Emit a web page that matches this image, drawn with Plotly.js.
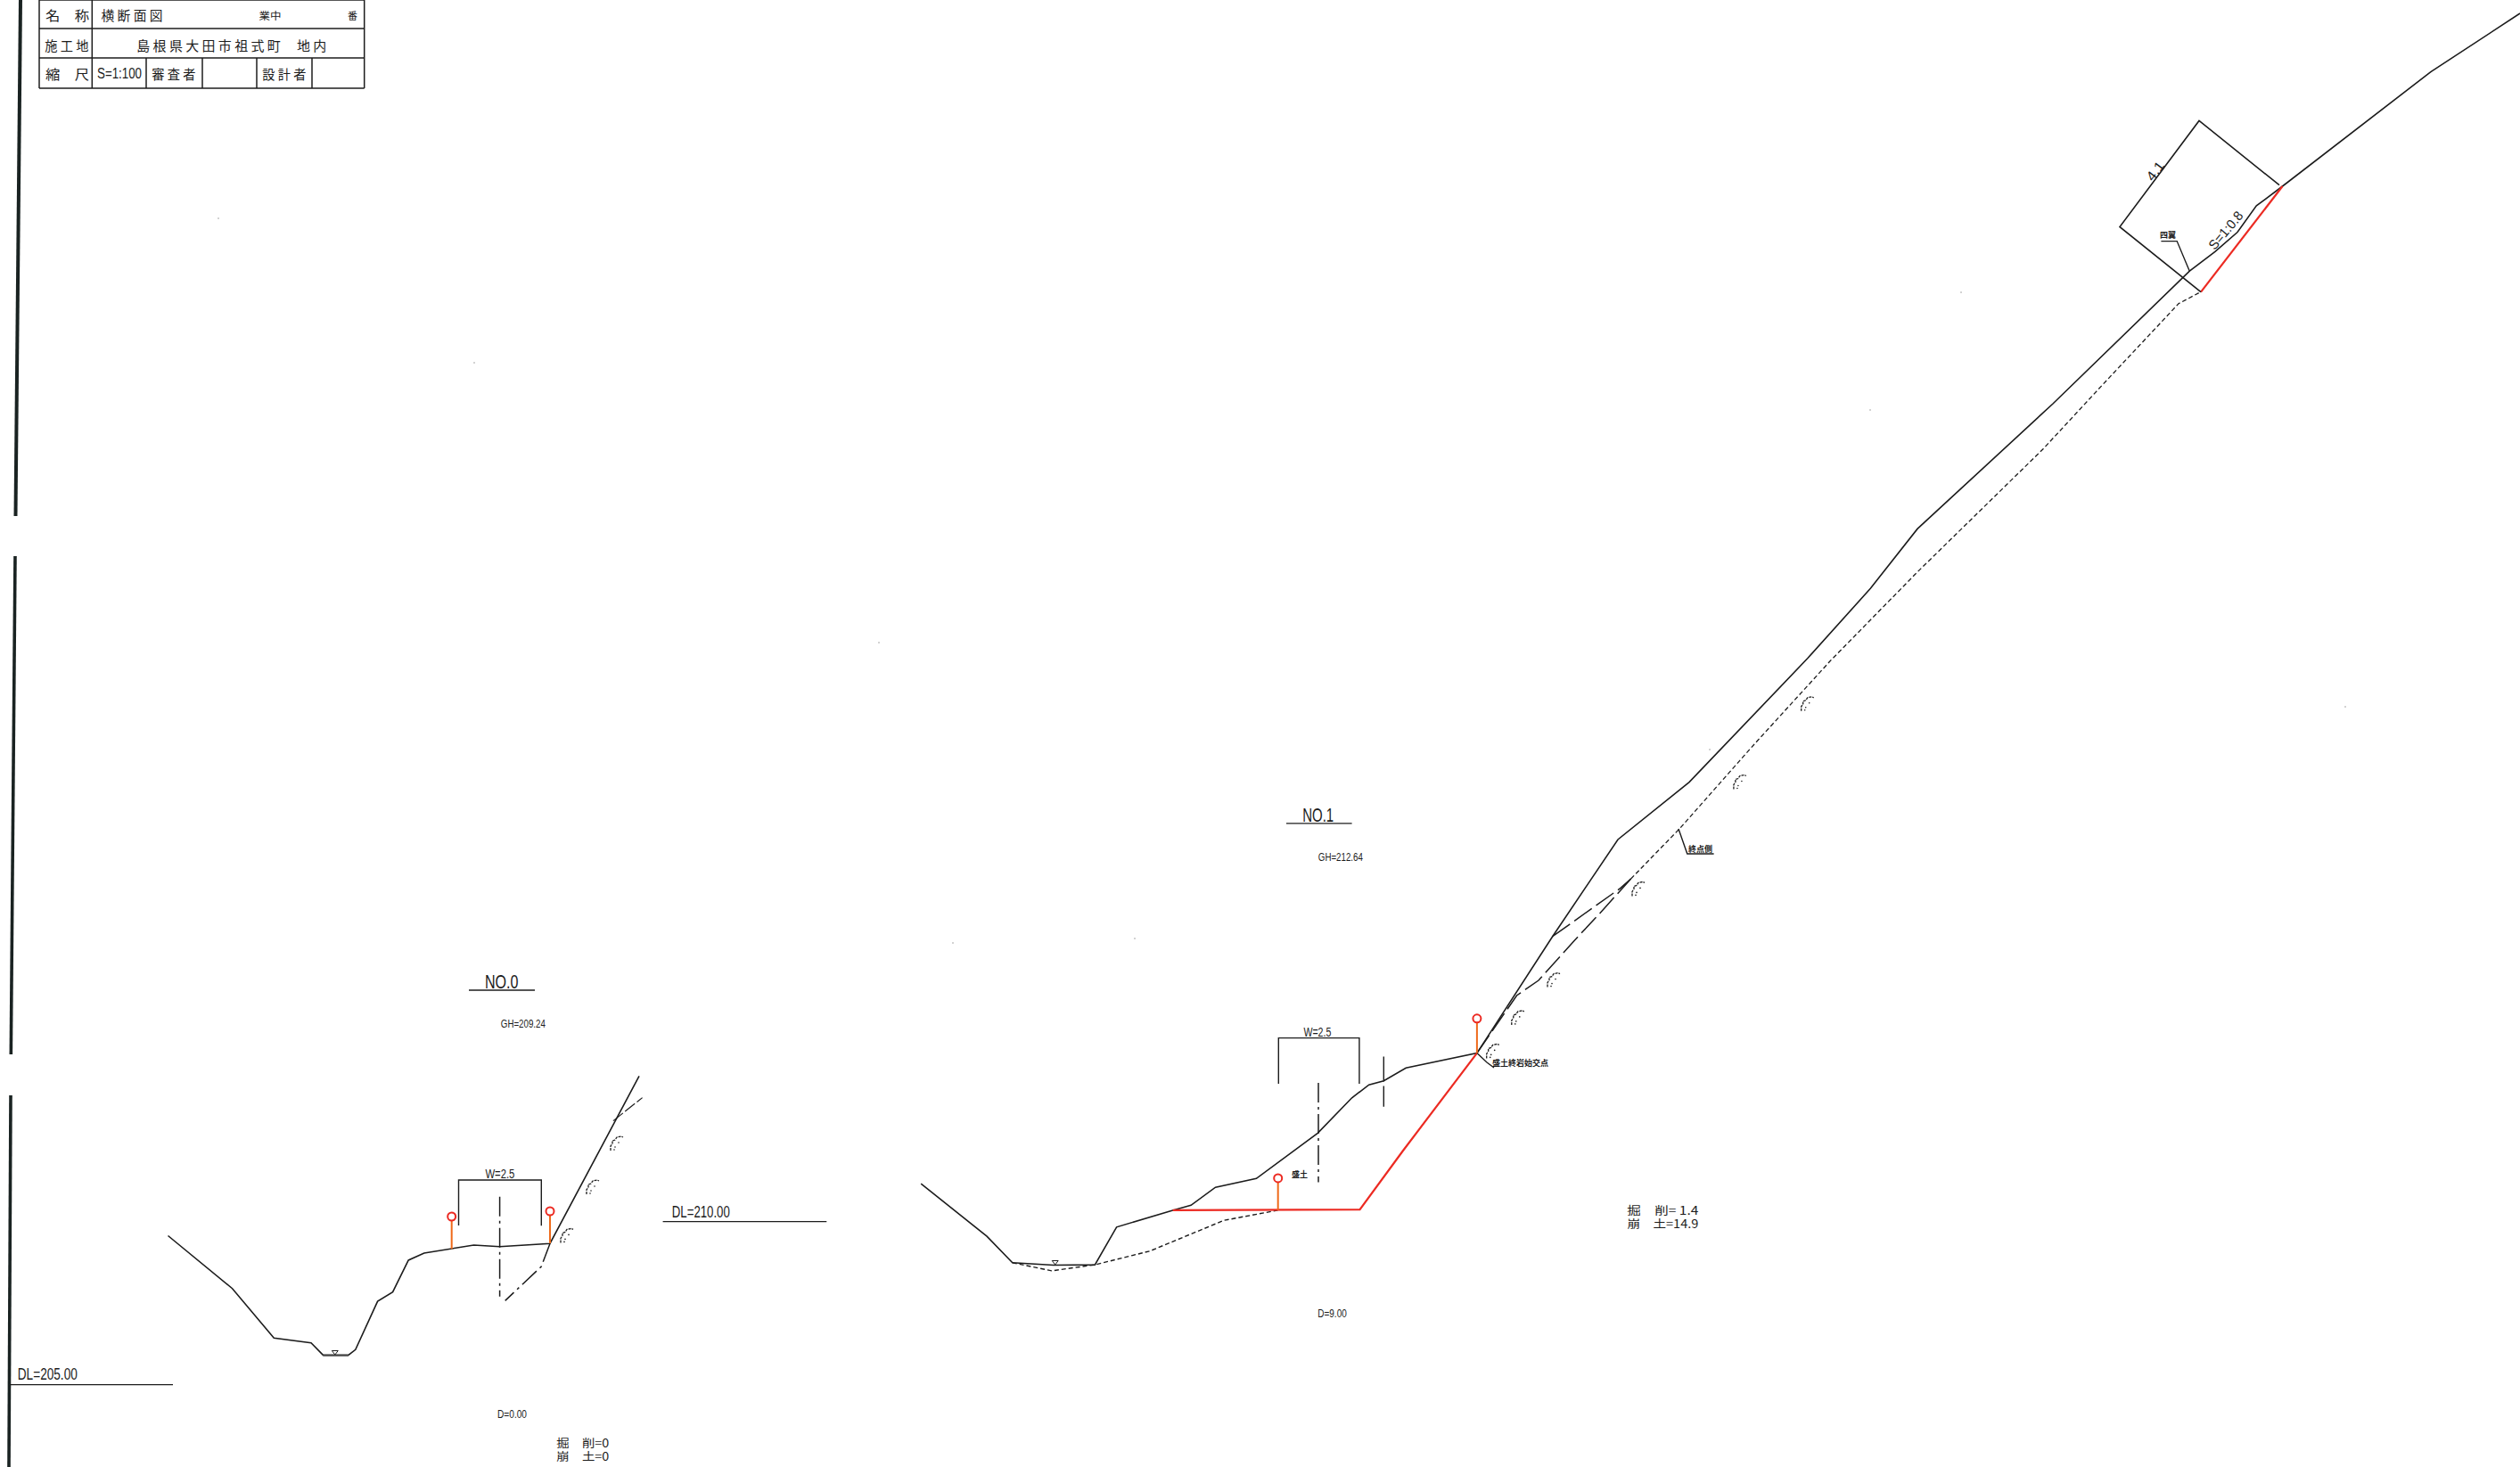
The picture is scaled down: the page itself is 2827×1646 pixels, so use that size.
<!DOCTYPE html>
<html><head><meta charset="utf-8">
<script src="https://cdn.plot.ly/plotly-3.0.1.min.js"></script>
<style>html,body{margin:0;padding:0;background:#fff}#g{width:2827px;height:1646px}</style>
</head><body><div id="g"></div>
<script>
// --- drawing data, in sheet units ---
const no0GroundX=[188.5,233.3,260.6,307.3,349,362.4,390.9,398.8,423.6,440.6,458.2,475.8,531.5,560.6,617,717];
const no0GroundY=[1386.5,1423,1445.7,1501.3,1506.7,1520.4,1520.4,1514.3,1460.1,1449.7,1413.9,1406,1397,1398.8,1395.2,1207.4];
const no0BranchX=[687.9,720.6];
const no0BranchY=[1257.6,1231.6];
const no0LowerX=[617,607.3,566.7];
const no0LowerY=[1395.2,1421,1459.4];
const no0CenterX=[560.6,560.6];
const no0CenterY=[1342.8,1454.7];
const no0BracketX=[514.5,514.5,607.3,607.3];
const no0BracketY=[1375,1324,1324,1375.3];
const no0WaterX=[362.4,390.9];
const no0WaterY=[1521,1521];
const no1GroundX=[1033.2,1107.1,1135.8,1181.8,1228.3,1252.6,1315.7,1336.1,1363.5,1409.4,1478.3,1516.6,1535.7,1552.3,1577.2,1656.9,1741.7,1815,1895,2027.7,2098.3,2151,2303,2449.6,2456.3,2484.9,2510,2531.3,2560.5,2726.9,2827];
const no1GroundY=[1328.2,1387.1,1416.8,1419.5,1419.1,1376.8,1357.9,1352.3,1332.2,1322.3,1271.3,1231.8,1217.2,1212.8,1198.2,1181.6,1050.7,942,877.6,738.8,660.2,593.4,453,311.2,304.2,282.4,260.5,230.9,209,80.7,15];
const no1RedLowX=[1315.7,1525.5,1574,1656.9];
const no1RedLowY=[1357.9,1357.1,1291,1181.6];
const no1RedTopX=[2469,2560.5];
const no1RedTopY=[327.7,209];
const no1OrigLowX=[1135.8,1179.8,1228.3,1290,1373,1433.7];
const no1OrigLowY=[1416.8,1425.9,1419.1,1403.7,1369.3,1357.9];
const no1OrigMidX=[1656.9,1701.5,1726,1766.5,1795,1829.6];
const no1OrigMidY=[1181.6,1117,1100,1055,1024.5,986];
const no1OrigUpX=[1829.6,1884,1967.4,2053.5,2151,2291.8,2357.8,2443.9,2469.7];
const no1OrigUpY=[986,930,835.7,741.3,641.8,504,432.7,340.8,327];
const no1BranchX=[1741.7,1818,1829.6];
const no1BranchY=[1050.7,996.4,986];
const no1CenterX=[1479,1479];
const no1CenterY=[1215,1326.6];
const no1Center2X=[1552.3,1552.3];
const no1Center2Y=[1185.5,1241.7];
const no1BracketX=[1434.3,1434.3,1524.9,1524.9];
const no1BracketY=[1216,1164.6,1164.6,1216];
const slopeDimX=[2557,2467,2378,2469];
const slopeDimY=[207.7,135.5,254.5,327.7];
const postX=[506.7,617,1433.7,1656.9];
const postFootY=[1401.3,1395,1357.9,1181.6];
const postHeadY=[1365,1359,1321.9,1142.8];
const waterMarkX=[375.8,1183.7];
const waterMarkY=[1517,1416];
const rockX=[692,665,636,1674.7,1702.8,1743,1838,1951.9,2027.7];
const rockY=[1282,1331,1385.4,1178.4,1140.9,1098.6,996.4,876.5,788.8];
const rockShapeX=[-7,-7,-5,-5,-2,0,5,7];
const rockShapeY=[9,4,1,-2,-3,-6,-7,-6];
const leaderAX=[1656.9,1668,1676];
const leaderAY=[1181.6,1192,1198];
const leaderBX=[1883,1892.8,1922.6];
const leaderBY=[930,958,958];
const leaderCX=[2424.4,2442.2,2456.3];
const leaderCY=[270.6,270.6,304.2];
const no0UnderX=[526,600],no0UnderY=[1111,1111];
const no1UnderX=[1443,1516.6],no1UnderY=[923.9,923.9];
const dl210X=[743.6,927.3],dl210Y=[1370.6,1370.6];
const dl205X=[11,194],dl205Y=[1553.6,1553.6];
const borderAX=[23,17.5],borderAY=[0,579];
const borderBX=[17,12.3],borderBY=[624,1183];
const borderCX=[12,10],borderCY=[1229,1646];
const blockX=[[44,408.7],[44,408.7],[44,408.7],[44,408.7],[44,44],[103.3,103.3],[408.7,408.7],[164,164],[227,227],[288,288],[350,350]];
const blockY=[[0,0],[32,32],[65,65],[99,99],[0,99],[0,99],[0,99],[65,99],[65,99],[65,99],[65,99]];
const speckX=[245,532,2200,2631,986,1069,1273,2098,1918];
const speckY=[245,407,328,793,721,1058,1053,460,841];

// labels
const blockLabels=['名　称','横 断 面 図','業中','番','施 工 地','島 根 県 大 田 市 祖 式 町　 地 内','縮　尺','S=1:100','審 査 者','設 計 者'];
const blockLabelX=[75,148,303,395,75,260,75,134,195,319];
const blockLabelY=[16,16,17,17,50,50,82,82,82,82];
const blockLabelWidth=[49,69,25,11,49,213,49,50,49,49];
const narrowLabels=['NO.0','NO.1','DL=210.00','DL=205.00','W=2.5','W=2.5','GH=209.24','GH=212.64','D=0.00','D=9.00'];
const narrowLabelX=[562.4,1478.3,786.7,53,560.6,1478.3,586.7,1503.8,574.5,1494.3];
const narrowLabelY=[1101,914.4,1359.8,1542,1316.8,1157.9,1149.3,962.2,1586.9,1474];
const narrowLabelSize=[22,22,18,18,15,15,12,12,12,12];
const narrowLabelWidth=[37.6,35,65,67,33,31,50,50,33,32.5];
const volumeLabels=['掘　削=0','崩　土=0','掘　削= 1.4','崩　土=14.9'];
const volumeLabelX=[653,653,1865,1865];
const volumeLabelY=[1618.6,1633.4,1357.5,1372.5];
const volumeLabelWidth=[59,59,80,80];
const noteLabels=['盛土','盛土終岩始交点','終点側','四翼'];
const noteLabelX=[1458,1705,1907,2432];
const noteLabelY=[1317,1192,952,263.5];
const slopeLabels=['4.1','S=1:0.8'];
const slopeLabelX=[2417.6,2496.6];
const slopeLabelY=[191.6,258.8];
const slopeLabelAngle=[-53,-50];
const slopeLabelWidth=[23,51];

// --- styles and traces ---
const INK='#1c1c1c',RED='#ec2a22',ORANGE='#ef6a1a';
const traces=[];
function line(x,y,color,width,dash){traces.push({x,y,type:'scatter',mode:'lines',hoverinfo:'skip',showlegend:false,
  line:{color:color||INK,width:width||1.5,dash:dash||'solid',shape:'linear'}});}
const DASHDOT='22px,5px,3px,5px',LONG='24px,6px',SHORT='5px,3px';

line(borderAX,borderAY,'#1a2322',4);line(borderBX,borderBY,'#1a2322',3.6);line(borderCX,borderCY,'#1a2322',3.6);
blockX.forEach((x,i)=>line(x,blockY[i],INK,1.5));

line(no0GroundX,no0GroundY,INK,1.6);
line(no0BranchX,no0BranchY,INK,1.2,'14px,3px');
line(no0LowerX,no0LowerY,INK,1.5,DASHDOT);
line(no0CenterX,no0CenterY,INK,1.5,DASHDOT);
line(no0BracketX,no0BracketY,INK,1.4);
line(no0WaterX,no0WaterY,'#555',1.6);

line(no1OrigLowX,no1OrigLowY,INK,1.4,SHORT);
line(no1OrigMidX,no1OrigMidY,INK,1.5,LONG);
line(no1OrigUpX,no1OrigUpY,INK,1.3,SHORT);
line(no1BranchX,no1BranchY,INK,1.5,LONG);
line(no1CenterX,no1CenterY,INK,1.5,DASHDOT);
line(no1Center2X,no1Center2Y,INK,1.4,'28px,5px');
line(no1BracketX,no1BracketY,INK,1.4);
line(no1GroundX,no1GroundY,INK,1.6);
line(no1RedLowX,no1RedLowY,RED,2.2);
line(no1RedTopX,no1RedTopY,RED,2.2);
line(slopeDimX,slopeDimY,INK,1.6);
[[leaderAX,leaderAY],[leaderBX,leaderBY],[leaderCX,leaderCY],[no0UnderX,no0UnderY],[no1UnderX,no1UnderY],[dl210X,dl210Y],[dl205X,dl205Y]]
  .forEach(p=>line(p[0],p[1],INK,1.4));

postX.forEach((x,i)=>line([x,x],[postFootY[i],postHeadY[i]],ORANGE,2));
traces.push({x:postX,y:postHeadY,type:'scatter',mode:'markers',hoverinfo:'skip',showlegend:false,
  marker:{symbol:'circle',size:9,color:'#fff',line:{color:RED,width:2}}});
traces.push({x:waterMarkX,y:waterMarkY,type:'scatter',mode:'markers',hoverinfo:'skip',showlegend:false,
  marker:{symbol:'triangle-down-open',size:6,color:INK,line:{color:INK,width:1}}});
rockX.forEach((cx,i)=>{
  line(rockShapeX.map(d=>cx+d),rockShapeY.map(d=>rockY[i]+d),INK,1.3,'3px,1px');
  traces.push({x:[cx-2,cx-3,cx+2],y:[rockY[i]+5,rockY[i]+8,rockY[i]],type:'scatter',mode:'markers',hoverinfo:'skip',showlegend:false,
    marker:{size:1.6,color:INK}});
});
traces.push({x:speckX,y:speckY,type:'scatter',mode:'markers',hoverinfo:'skip',showlegend:false,marker:{size:2,color:'#c4c4c4'}});

const CJK='"Noto Sans CJK JP","Liberation Sans"';
const SANS='"Liberation Sans"';
const ann=[],fit=[];
function put(text,x,y,family,size,angle,bold,width){
  ann.push({text:bold?'<b>'+text+'</b>':text,x,y,xref:'x',yref:'y',showarrow:false,xanchor:'center',yanchor:'middle',
    textangle:angle||0,font:{family,size,color:INK}});
  fit.push(width||0);
}
blockLabels.forEach((t,i)=>{
  const small=t==='業中'||t==='番';
  const latin=t==='S=1:100';
  put(t,blockLabelX[i],blockLabelY[i],latin?SANS:CJK,small?11:(latin?16:15),0,false,blockLabelWidth[i]);
});
narrowLabels.forEach((t,i)=>put(t,narrowLabelX[i],narrowLabelY[i],SANS,narrowLabelSize[i],0,false,narrowLabelWidth[i]));
volumeLabels.forEach((t,i)=>put(t,volumeLabelX[i],volumeLabelY[i],CJK,12.5,0,false,volumeLabelWidth[i]));
noteLabels.forEach((t,i)=>put(t,noteLabelX[i],noteLabelY[i],CJK,9,0,true,0));
slopeLabels.forEach((t,i)=>put(t,slopeLabelX[i],slopeLabelY[i],SANS,15,slopeLabelAngle[i],false,slopeLabelWidth[i]));

Plotly.newPlot('g',traces,{
  width:2827,height:1646,margin:{l:0,r:0,t:0,b:0,pad:0},
  paper_bgcolor:'#fff',plot_bgcolor:'#fff',showlegend:false,
  xaxis:{range:[0,2827],visible:false,fixedrange:true},
  yaxis:{range:[1646,0],visible:false,fixedrange:true},
  annotations:ann
},{staticPlot:true,displayModeBar:false}).then(gd=>{
  // the sheet's lettering is condensed: fit each label to its measured length
  gd.querySelectorAll('text.annotation-text').forEach((el,i)=>{
    if(fit[i]){el.setAttribute('textLength',fit[i]);el.setAttribute('lengthAdjust','spacingAndGlyphs');}
  });
});
</script></body></html>
